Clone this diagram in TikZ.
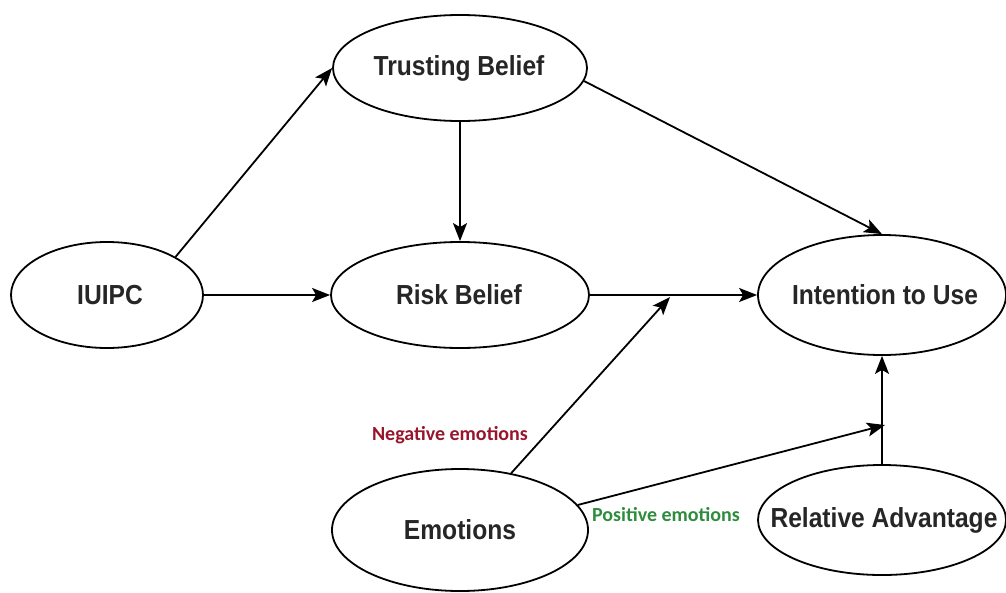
\documentclass[tikz,border=0pt]{standalone}
\usepackage{fontspec}
\setmainfont{Liberation Sans}
\newfontfamily\lblfont{Carlito}
\usetikzlibrary{shapes.geometric,arrows.meta}
\definecolor{negred}{RGB}{150,22,45}
\definecolor{posgreen}{RGB}{46,140,62}
\newcommand{\ntxt}[1]{\scalebox{1}[1.12]{#1}}
\tikzset{
  ell/.style={draw=black,line width=1.8pt,ellipse,inner sep=0pt,fill=white},
  ntext/.style={font=\fontsize{24.6}{28}\selectfont\bfseries,inner sep=0pt,text=black!85},
  conn/.style={draw=black,line width=1.8pt,-{Stealth[length=18pt,width=14pt,inset=4pt]}},
  lbl/.style={font=\lblfont\fontsize{20}{24}\selectfont\bfseries,inner sep=0pt}
}
\begin{document}
\begin{tikzpicture}[x=1pt,y=-1pt]
\useasboundingbox (0,0) rectangle (1006,592);
\node[ell,minimum width=254pt,minimum height=106pt] (tb) at (460,68) {};
\node[ell,minimum width=192pt,minimum height=106pt] (iu) at (107,295) {};
\node[ell,minimum width=258pt,minimum height=106pt] (rb) at (460,295) {};
\node[ell,minimum width=248pt,minimum height=120pt] (it) at (882,295) {};
\node[ell,minimum width=248pt,minimum height=110pt] (ra) at (882,520) {};
\node[ell,minimum width=256pt,minimum height=122pt] (em) at (460,530) {};
\node[ntext] (tbt) at (459,68) {\ntxt{Trusting Belief}};
\node[ntext] (iut) at (110,295) {\ntxt{IUIPC}};
\node[ntext] (rbt) at (459,295) {\ntxt{Risk Belief}};
\node[ntext] (itt) at (885,295) {\ntxt{Intention to Use}};
\node[ntext] (rat) at (884,520) {\ntxt{Relative Advantage}};
\node[ntext] (emt) at (460,530) {\ntxt{Emotions}};
\coordinate (j1) at (670,297);
\coordinate (j2) at (885,425);
\draw[conn] (iu.north east) -- (tb.west);
\draw[conn] (iu.east) -- (rb.west);
\draw[conn] (tb.south) -- (rb.north);
\draw[conn] (tb.-6) -- (it.north);
\draw[conn] (rb.east) -- (it.west);
\draw[conn] (em.48) -- (j1);
\draw[conn] (em.12) -- (j2);
\draw[conn] (ra.north) -- (it.south);
\node[lbl,text=negred] (neg) at (450,435) {Negative emotions};
\node[lbl,text=posgreen] (pos) at (666,515) {Positive emotions};
\end{tikzpicture}
\end{document}
